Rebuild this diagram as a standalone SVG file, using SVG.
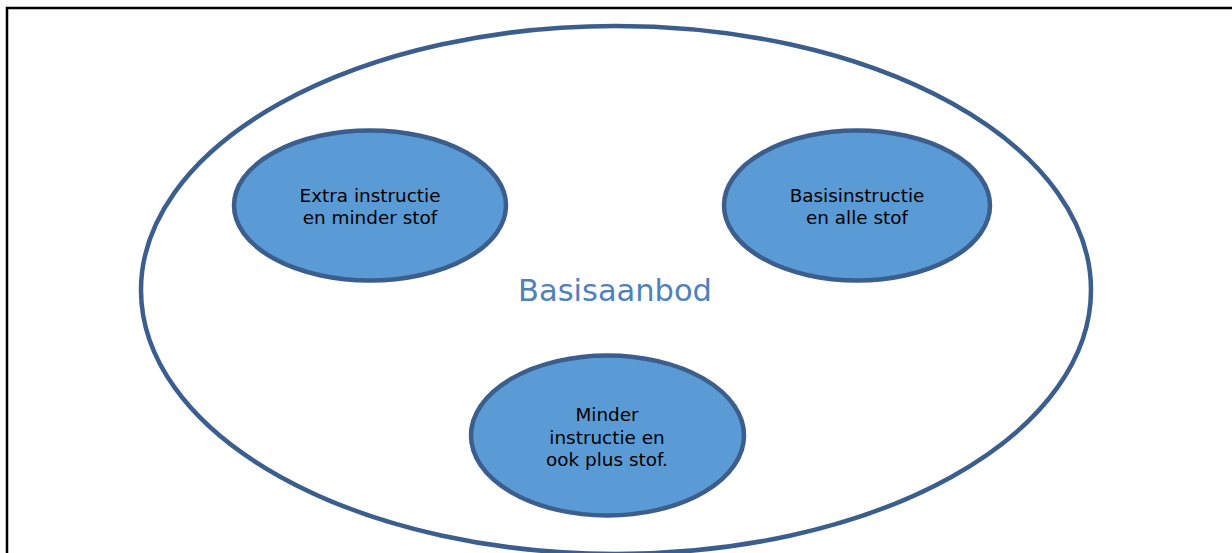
<svg xmlns="http://www.w3.org/2000/svg" width="1232" height="553" viewBox="0 0 1232 553">
<style>
.node{fill:#5b9bd5;stroke:#3b5e8c;stroke-width:4.5}
.lbl{font-family:"DejaVu Sans",Verdana,sans-serif;font-size:18.4px;fill:#000;text-anchor:middle}
</style>
<rect width="1232" height="553" fill="#fff"/>
<path d="M7 553 V8 H1232" fill="none" stroke="#000" stroke-width="2.5"/>
<g id="basisaanbod">
<ellipse cx="616" cy="290" rx="475" ry="264" fill="#fff" stroke="#3b5e8c" stroke-width="4.5"/>
<text x="615" y="301" font-family="DejaVu Sans,Verdana,sans-serif" font-size="30.5" fill="#4f81bd" text-anchor="middle">Basisaanbod</text>
</g>
<g id="extra">
<ellipse class="node" cx="370" cy="205.5" rx="136" ry="75"/>
<text class="lbl" x="370" y="202">Extra instructie</text>
<text class="lbl" x="370" y="223.5">en minder stof</text>
</g>
<g id="basis">
<ellipse class="node" cx="857" cy="205.5" rx="133" ry="75"/>
<text class="lbl" x="857" y="202">Basisinstructie</text>
<text class="lbl" x="857" y="223.5">en alle stof</text>
</g>
<g id="minder">
<ellipse class="node" cx="607.5" cy="435.5" rx="136.5" ry="80"/>
<text class="lbl" x="607" y="421">Minder</text>
<text class="lbl" x="607" y="443.5">instructie en</text>
<text class="lbl" x="607" y="466">ook plus stof.</text>
</g>
<g id="connectors"/>
</svg>
